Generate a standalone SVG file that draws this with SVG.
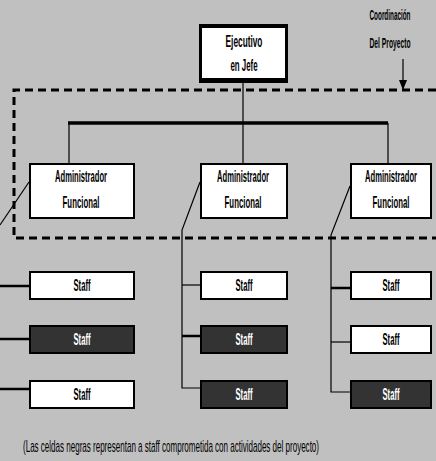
<svg xmlns="http://www.w3.org/2000/svg" width="436" height="461" viewBox="0 0 436 461">
<style>
.box{fill:#fff;stroke:#000;stroke-width:2}
.dark{fill:#333;stroke:#000;stroke-width:2}
.lbl{font-family:"Liberation Sans",Arial,sans-serif;font-size:17px;font-weight:bold;text-anchor:middle;fill:#000}
.wl{fill:#fff}
.sm{font-family:"Liberation Sans",Arial,sans-serif;font-size:14px;font-weight:bold;text-anchor:middle;fill:#000}
.cap{font-family:"Liberation Sans",Arial,sans-serif;font-size:16px;fill:#000}
.ln{stroke:#000;stroke-width:1.2;fill:none}
.thk{stroke:#000;stroke-width:2.5;fill:none}
.dash{stroke:#000;stroke-width:3;stroke-dasharray:8 5;fill:none}
</style>
<defs>
<marker id="ah" markerWidth="10" markerHeight="8" refX="10" refY="4" orient="auto" markerUnits="userSpaceOnUse" viewBox="0 0 10 8">
<path d="M0,0 L10,4 L0,8 Z" fill="#000"/>
</marker>
</defs>
<rect width="436" height="461" fill="#c0c0c0"/>
<g id="connectors">
<line class="ln" x1="243" y1="83" x2="243" y2="123"/>
<line class="thk" x1="68" y1="123" x2="388" y2="123" style="stroke-width:3.5"/>
<line class="ln" x1="69" y1="123" x2="69" y2="163"/>
<line class="ln" x1="243" y1="123" x2="243" y2="163"/>
<line class="ln" x1="388" y1="123" x2="388" y2="163"/>
<line class="ln" x1="29" y1="182" x2="0" y2="225"/>
<line class="thk" x1="0" y1="286" x2="29" y2="286"/>
<line class="thk" x1="0" y1="339" x2="29" y2="339"/>
<line class="thk" x1="0" y1="389" x2="29" y2="389"/>
<polyline class="ln" points="200,182 182,230 182,388 200,388"/>
<line class="ln" x1="182" y1="285" x2="200" y2="285"/>
<line class="thk" x1="182" y1="336" x2="200" y2="336"/>
<polyline class="ln" points="350,186 331,235 331,392 350,392"/>
<line class="thk" x1="331" y1="288" x2="350" y2="288"/>
<line class="ln" x1="331" y1="342" x2="350" y2="342"/>
<line class="ln" x1="403" y1="59" x2="403" y2="90" marker-end="url(#ah)"/>
</g>
<g id="coordination">
<polyline class="dash" points="436,90 14,90 14,238 436,238"/>
<text class="sm" transform="translate(390,20) scale(0.46,1)" textLength="89" lengthAdjust="spacingAndGlyphs">Coordinación</text>
<text class="sm" transform="translate(390,48) scale(0.46,1)" textLength="89" lengthAdjust="spacingAndGlyphs">Del Proyecto</text>
</g>
<g id="ejecutivo">
<rect x="199" y="24" width="89" height="59" fill="#000"/>
<rect x="202" y="28" width="83" height="50" fill="#fff"/>
<text class="lbl" transform="translate(244,47) scale(0.46,1)" textLength="80" lengthAdjust="spacingAndGlyphs">Ejecutivo</text>
<text class="lbl" transform="translate(244,71) scale(0.46,1)" textLength="59" lengthAdjust="spacingAndGlyphs">en Jefe</text>
</g>
<g id="admin1">
<rect class="box" x="30" y="164" width="104" height="54"/>
<text class="lbl" transform="translate(81,182) scale(0.46,1)" textLength="113" lengthAdjust="spacingAndGlyphs">Administrador</text>
<text class="lbl" transform="translate(81,208) scale(0.46,1)" textLength="80" lengthAdjust="spacingAndGlyphs">Funcional</text>
</g>
<g id="admin2">
<rect class="box" x="201" y="164" width="86" height="54"/>
<text class="lbl" transform="translate(243,182) scale(0.46,1)" textLength="113" lengthAdjust="spacingAndGlyphs">Administrador</text>
<text class="lbl" transform="translate(243,208) scale(0.46,1)" textLength="80" lengthAdjust="spacingAndGlyphs">Funcional</text>
</g>
<g id="admin3">
<rect class="box" x="351" y="164" width="80" height="54"/>
<text class="lbl" transform="translate(391,182) scale(0.46,1)" textLength="113" lengthAdjust="spacingAndGlyphs">Administrador</text>
<text class="lbl" transform="translate(391,208) scale(0.46,1)" textLength="80" lengthAdjust="spacingAndGlyphs">Funcional</text>
</g>
<g id="staff-l1"><rect class="box" x="30" y="272" width="104" height="27"/><text class="lbl" transform="translate(82,291) scale(0.46,1)" textLength="37" lengthAdjust="spacingAndGlyphs">Staff</text></g>
<g id="staff-l2"><rect class="dark" x="30" y="326" width="104" height="27"/><text class="lbl wl" transform="translate(82,345) scale(0.46,1)" textLength="37" lengthAdjust="spacingAndGlyphs">Staff</text></g>
<g id="staff-l3"><rect class="box" x="30" y="381" width="104" height="27"/><text class="lbl" transform="translate(82,400) scale(0.46,1)" textLength="37" lengthAdjust="spacingAndGlyphs">Staff</text></g>
<g id="staff-m1"><rect class="box" x="201" y="272" width="86" height="27"/><text class="lbl" transform="translate(244,291) scale(0.46,1)" textLength="37" lengthAdjust="spacingAndGlyphs">Staff</text></g>
<g id="staff-m2"><rect class="dark" x="201" y="326" width="86" height="27"/><text class="lbl wl" transform="translate(244,345) scale(0.46,1)" textLength="37" lengthAdjust="spacingAndGlyphs">Staff</text></g>
<g id="staff-m3"><rect class="dark" x="201" y="381" width="86" height="27"/><text class="lbl wl" transform="translate(244,400) scale(0.46,1)" textLength="37" lengthAdjust="spacingAndGlyphs">Staff</text></g>
<g id="staff-r1"><rect class="box" x="351" y="272" width="80" height="27"/><text class="lbl" transform="translate(391,291) scale(0.46,1)" textLength="37" lengthAdjust="spacingAndGlyphs">Staff</text></g>
<g id="staff-r2"><rect class="box" x="351" y="326" width="80" height="27"/><text class="lbl" transform="translate(391,345) scale(0.46,1)" textLength="37" lengthAdjust="spacingAndGlyphs">Staff</text></g>
<g id="staff-r3"><rect class="dark" x="351" y="381" width="80" height="27"/><text class="lbl wl" transform="translate(391,400) scale(0.46,1)" textLength="37" lengthAdjust="spacingAndGlyphs">Staff</text></g>
<text class="cap" transform="translate(23,452) scale(0.5,1)" textLength="592" lengthAdjust="spacingAndGlyphs">(Las celdas negras representan a staff comprometida con actividades del proyecto)</text>
</svg>
